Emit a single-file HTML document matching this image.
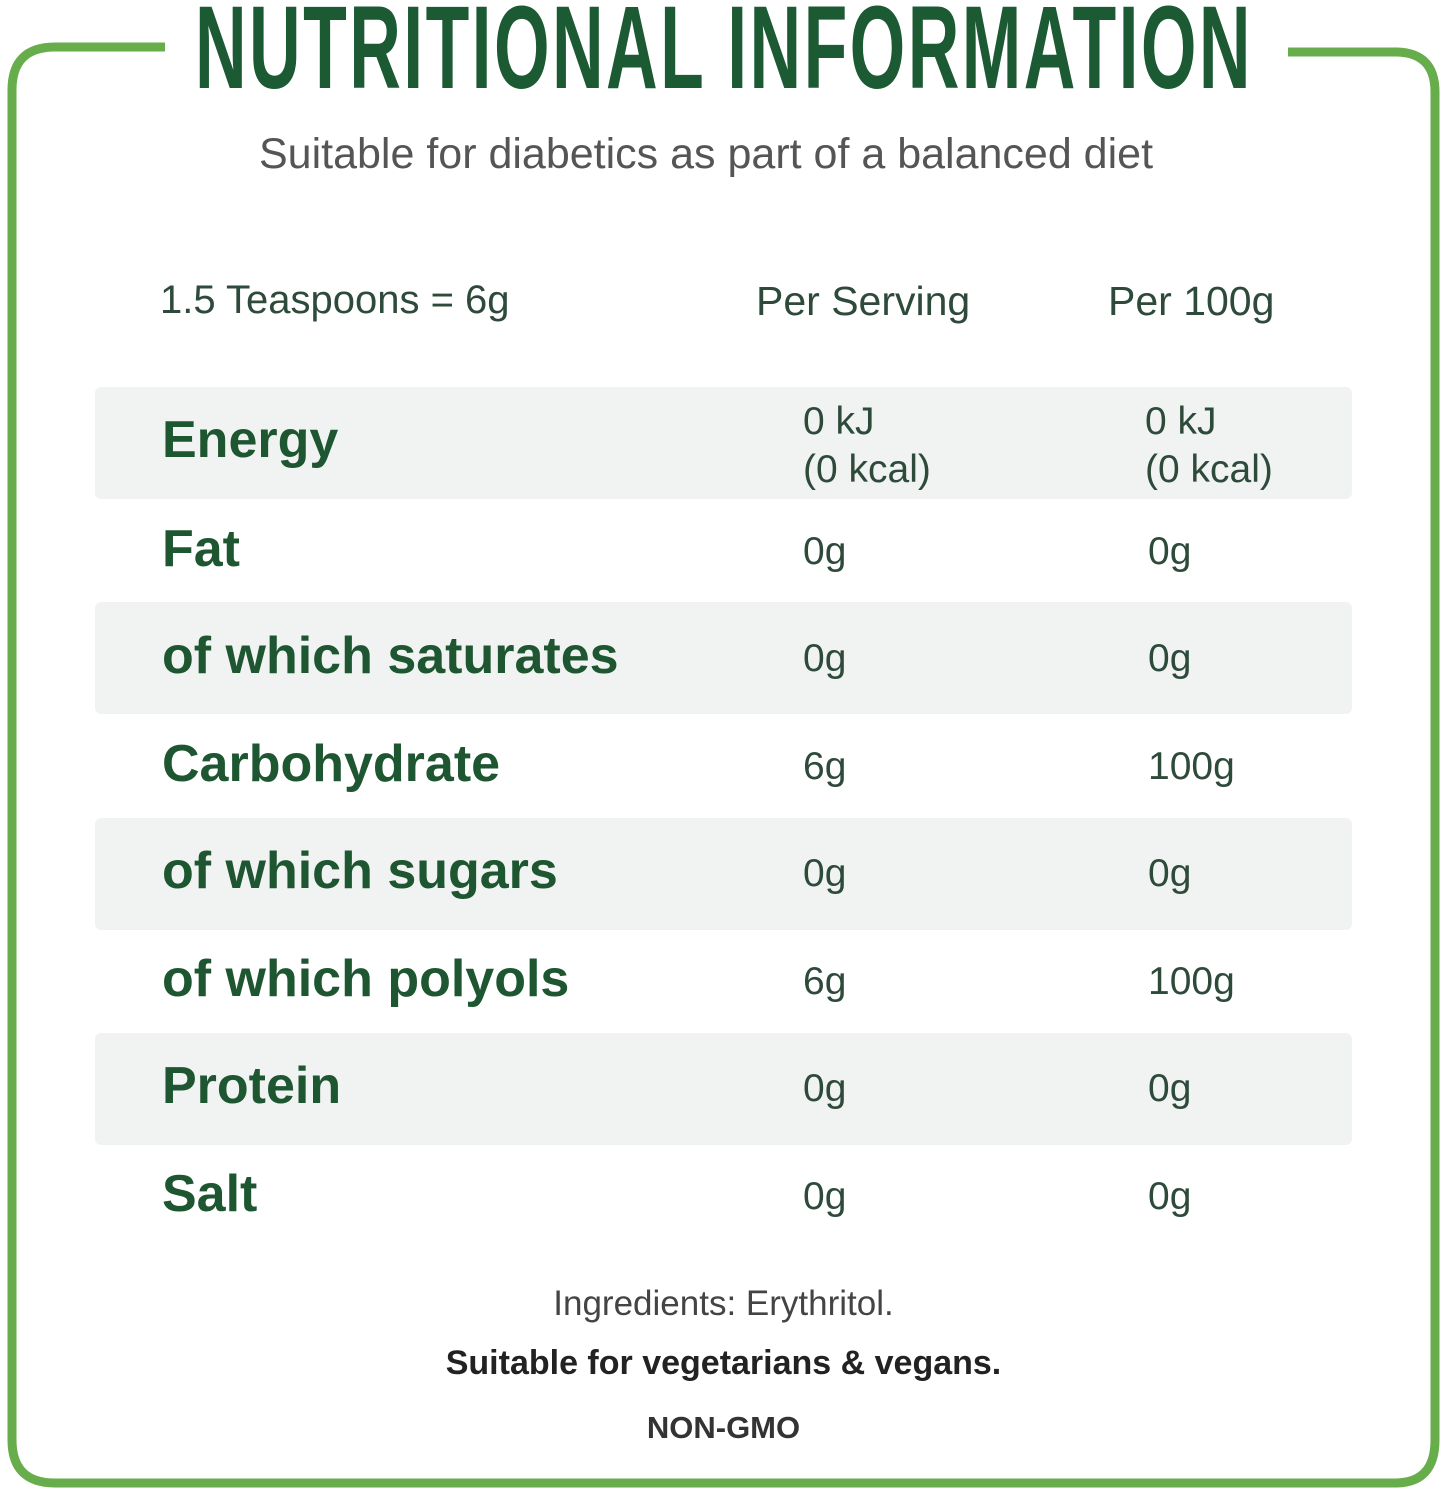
<!DOCTYPE html>
<html><head><style>
body{margin:0;width:1447px;height:1499px;background:#fff;position:relative;overflow:hidden;font-family:"Liberation Sans",sans-serif;}
.a{position:absolute;white-space:nowrap;}
.band{position:absolute;left:95px;width:1257px;height:112px;background:#f1f3f2;border-radius:6px;}
.lab{position:absolute;left:162px;font-weight:bold;font-size:52px;color:#1e5631;}
.v{position:absolute;font-size:39px;color:#2d4a3a;}
</style></head><body>
<svg class="a" style="left:0;top:0" width="1447" height="1499">
<path d="M165 47 L55 47 Q12 47 12 90 L12 1440 Q12 1483 55 1483 L1395 1483 Q1435 1483 1435 1440 L1435 92 Q1435 52 1395 52 L1288 52" fill="none" stroke="#67ad4b" stroke-width="9"/>
</svg>
<div class="a" id="t" style="left:195px;top:-20px;font-weight:bold;font-size:118px;color:#1b5a33;letter-spacing:4px;transform-origin:left top;">NUTRITIONAL INFORMATION</div>
<script>var t=document.getElementById('t');t.style.transform='scaleX('+(1058/t.getBoundingClientRect().width)+')';</script>
<div class="a" style="left:259px;top:130px;font-size:43px;color:#555;">Suitable for diabetics as part of a balanced diet</div>
<div class="a" style="left:160px;top:278px;font-size:40px;color:#2d4a3a;">1.5 Teaspoons = 6g</div>
<div class="a" style="left:756px;top:278px;font-size:41px;color:#2d4a3a;">Per Serving</div>
<div class="a" style="left:1108px;top:278px;font-size:41px;color:#2d4a3a;">Per 100g</div>
<div class="band" style="top:387px"></div>
<div class="band" style="top:602px"></div>
<div class="band" style="top:818px"></div>
<div class="band" style="top:1033px"></div>
<div class="lab" style="top:410px">Energy</div>
<div class="v" style="left:803px;top:398px;line-height:48px">0 kJ<br>(0 kcal)</div>
<div class="v" style="left:1145px;top:398px;line-height:48px">0 kJ<br>(0 kcal)</div>
<div class="lab" style="top:519px">Fat</div><div class="v" style="left:803px;top:530px">0g</div><div class="v" style="left:1148px;top:530px">0g</div>
<div class="lab" style="top:626px">of which saturates</div><div class="v" style="left:803px;top:637px">0g</div><div class="v" style="left:1148px;top:637px">0g</div>
<div class="lab" style="top:734px">Carbohydrate</div><div class="v" style="left:803px;top:745px">6g</div><div class="v" style="left:1148px;top:745px">100g</div>
<div class="lab" style="top:841px">of which sugars</div><div class="v" style="left:803px;top:852px">0g</div><div class="v" style="left:1148px;top:852px">0g</div>
<div class="lab" style="top:949px">of which polyols</div><div class="v" style="left:803px;top:960px">6g</div><div class="v" style="left:1148px;top:960px">100g</div>
<div class="lab" style="top:1056px">Protein</div><div class="v" style="left:803px;top:1067px">0g</div><div class="v" style="left:1148px;top:1067px">0g</div>
<div class="lab" style="top:1164px">Salt</div><div class="v" style="left:803px;top:1175px">0g</div><div class="v" style="left:1148px;top:1175px">0g</div>
<div class="a" style="left:0;width:1447px;text-align:center;top:1284px;font-size:35px;color:#444;">Ingredients: Erythritol.</div>
<div class="a" style="left:0;width:1447px;text-align:center;top:1344px;font-size:34px;font-weight:bold;color:#222;">Suitable for vegetarians &amp; vegans.</div>
<div class="a" style="left:0;width:1447px;text-align:center;top:1410px;font-size:31px;font-weight:bold;color:#333;">NON-GMO</div>
</body></html>
